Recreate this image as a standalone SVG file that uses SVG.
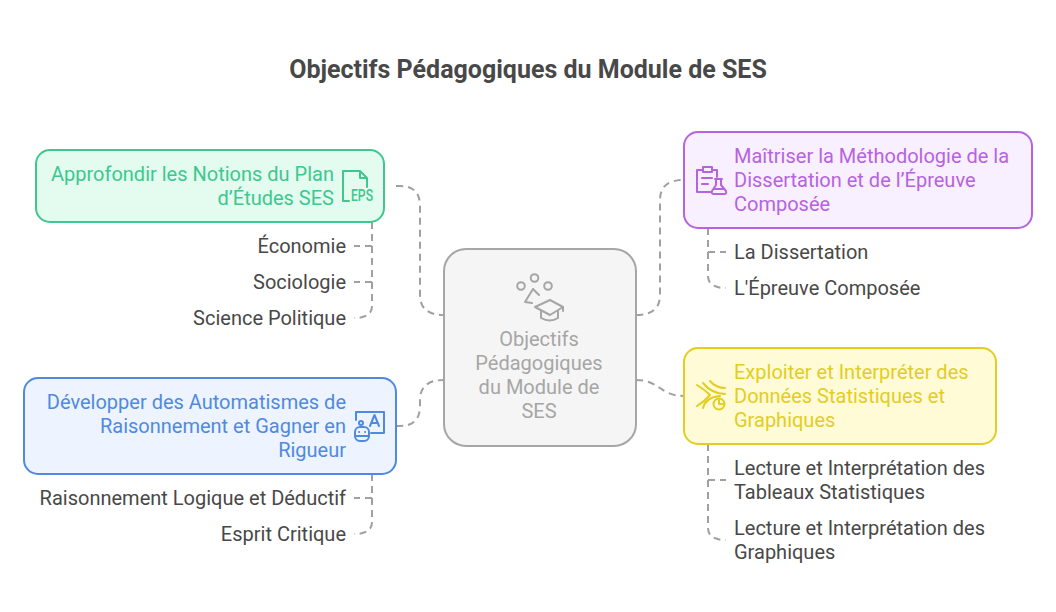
<svg xmlns="http://www.w3.org/2000/svg" width="1056" height="612" viewBox="0 0 1056 612">
<style>
text{font-family:Roboto,"Liberation Sans",sans-serif;font-size:20px}
.title{font-size:25px;font-weight:700;fill:#484848}
.sub{fill:#484848}
.e{text-anchor:end}
.c{text-anchor:middle}
.box{stroke-width:2}
.ic{fill:none;stroke-width:2;stroke-linecap:round;stroke-linejoin:round}
.conn{fill:none;stroke:#a0a0a0;stroke-width:2;stroke-dasharray:7 5}
</style>
<rect width="1056" height="612" fill="#fff"/>
<text class="title c" x="528" y="78">Objectifs Pédagogiques du Module de SES</text>
<g id="connectors">
<path class="conn" d="M396 186H400Q420 186 420 206V295Q420 315 444 315"/>
<path class="conn" d="M396 426H400Q420 426 420 406V400Q420 380 444 380"/>
<path class="conn" d="M636 315Q660 315 660 295V200Q660 180 684 180"/>
<path class="conn" d="M636 380C660 380 660 396 684 396"/>
<path class="conn" d="M372 222V246H354"/>
<path class="conn" d="M372 222V282H354"/>
<path class="conn" d="M372 222V306Q372 318 354 318"/>
<path class="conn" d="M372 474V498H354"/>
<path class="conn" d="M372 474V522Q372 534 354 534"/>
<path class="conn" d="M708 228V252H726"/>
<path class="conn" d="M708 228V276Q708 288 726 288"/>
<path class="conn" d="M708 444V480H726"/>
<path class="conn" d="M708 444V528Q708 540 726 540"/>
</g>
<g id="node-center">
<rect class="box" x="444" y="249" width="192" height="197" rx="22" fill="#f5f5f5" stroke="#a6a6a6"/>
<g class="ic" stroke="#a6a6a6">
<circle cx="534.500" cy="278" r="3.800"/><circle cx="521" cy="286" r="3.800"/><circle cx="548" cy="286" r="3.800"/>
<path d="M533 289L525 302L532 303M533 289L539 295"/>
<path d="M535 307L550 300L563 307L550 315Z"/><path d="M541 311V318Q550 323 558 318V311"/><path d="M563 307V311"/>
</g>
<text class="c" fill="#a6a6a6" x="539" y="346">Objectifs</text>
<text class="c" fill="#a6a6a6" x="539" y="370">Pédagogiques</text>
<text class="c" fill="#a6a6a6" x="539" y="394">du Module de</text>
<text class="c" fill="#a6a6a6" x="539" y="418">SES</text>
</g>
<g id="node-notions">
<rect class="box" x="36" y="150" width="348" height="72" rx="14" fill="#e3fcef" stroke="#3ec78f"/>
<g class="ic" stroke="#3ec78f">
<path d="M349 201H343V171H360L367 178V187M360 171V178H367"/>
</g>
<text fill="#3ec78f" x="351" y="201" style="font-size:16.500px;font-weight:500" textLength="22" lengthAdjust="spacingAndGlyphs">EPS</text>
<text class="e" fill="#3ec78f" x="334" y="181">Approfondir les Notions du Plan</text>
<text class="e" fill="#3ec78f" x="334" y="205">d’Études SES</text>
</g>
<g id="item-economie"><text class="sub e" x="346" y="253">Économie</text></g>
<g id="item-sociologie"><text class="sub e" x="346" y="289">Sociologie</text></g>
<g id="item-science"><text class="sub e" x="346" y="325">Science Politique</text></g>
<g id="node-automatismes">
<rect class="box" x="24" y="378" width="372" height="96" rx="14" fill="#edf4ff" stroke="#4f8ae0"/>
<g class="ic" stroke="#4f8ae0">
<path d="M356 420V412H384V433H371"/>
<path d="M370 426L374.500 415L379 426M371.500 423H377.500"/>
<circle cx="361" cy="423" r="2"/>
<rect x="355" y="427" width="14" height="14" rx="5"/>
<path d="M355 436H369M359 432H359.100M365 432H365.100"/>
</g>
<text class="e" fill="#4f8ae0" x="346" y="409">Développer des Automatismes de</text>
<text class="e" fill="#4f8ae0" x="346" y="433">Raisonnement et Gagner en</text>
<text class="e" fill="#4f8ae0" x="346" y="457">Rigueur</text>
</g>
<g id="item-logique"><text class="sub e" x="346" y="505">Raisonnement Logique et Déductif</text></g>
<g id="item-critique"><text class="sub e" x="346" y="541">Esprit Critique</text></g>
<g id="node-methodologie">
<rect class="box" x="684" y="132" width="348" height="96" rx="14" fill="#f8f0fe" stroke="#b762e0"/>
<g class="ic" stroke="#b762e0">
<path d="M711 192H697V170H703M712 170H717V177"/>
<rect x="703" y="167" width="9" height="5"/>
<path d="M702 178H712M702 184H708"/>
<path d="M715 179H722M716 179V185L712 191Q711 194 714 194H724Q727 194 726 191L721 185V179M714 189H724"/>
</g>
<text fill="#b762e0" x="734" y="163">Maîtriser la Méthodologie de la</text>
<text fill="#b762e0" x="734" y="187">Dissertation et de l’Épreuve</text>
<text fill="#b762e0" x="734" y="211">Composée</text>
</g>
<g id="item-dissertation"><text class="sub" x="734" y="259">La Dissertation</text></g>
<g id="item-epreuve"><text class="sub" x="734" y="295">L'Épreuve Composée</text></g>
<g id="node-donnees">
<rect class="box" x="684" y="348" width="312" height="96" rx="14" fill="#fffbd6" stroke="#e3cd1e"/>
<g class="ic" stroke="#e3cd1e">
<path d="M697 385Q705 390 710 395Q705 401 697 406"/>
<path d="M703 383Q712 394 725 394M710 381Q716 388 725 388M703 408Q706 397 720 396"/>
<circle cx="719" cy="404" r="5.500"/>
<path d="M719 400V404H723"/>
</g>
<text fill="#e3cd1e" x="734" y="379">Exploiter et Interpréter des</text>
<text fill="#e3cd1e" x="734" y="403">Données Statistiques et</text>
<text fill="#e3cd1e" x="734" y="427">Graphiques</text>
</g>
<g id="item-tableaux"><text class="sub" x="734" y="475">Lecture et Interprétation des</text><text class="sub" x="734" y="499">Tableaux Statistiques</text></g>
<g id="item-graphiques"><text class="sub" x="734" y="535">Lecture et Interprétation des</text><text class="sub" x="734" y="559">Graphiques</text></g>
</svg>
